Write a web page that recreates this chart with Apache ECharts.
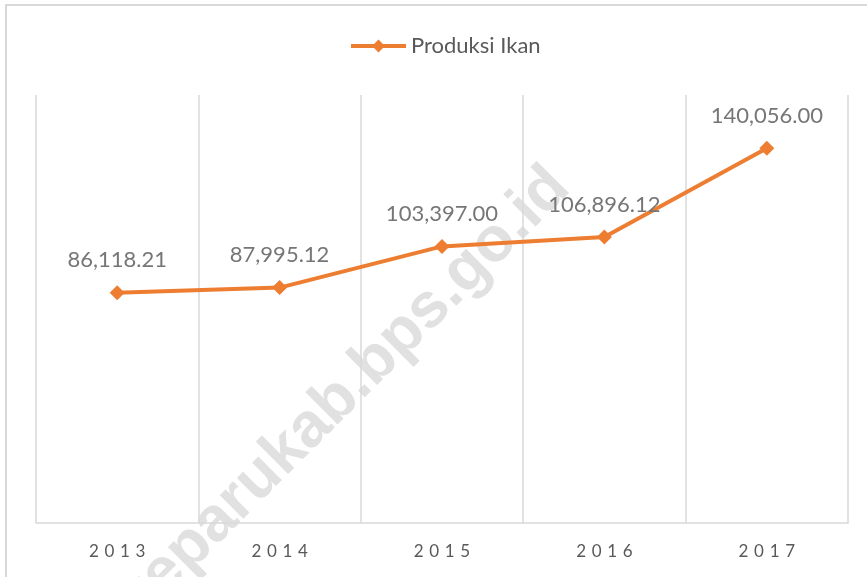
<!DOCTYPE html>
<html>
<head>
<meta charset="utf-8">
<script src="https://cdn.jsdelivr.net/npm/echarts@6/dist/echarts.min.js"></script>
<style>
  html, body { margin: 0; padding: 0; background: #fff; }
  #main { width: 867px; height: 577px; }
</style>
</head>
<body>
<div id="main"></div>
<script>
var years = ['2013', '2014', '2015', '2016', '2017'];
var produksi = [86118.21, 87995.12, 103397.00, 106896.12, 140056.00];
var seriesName = 'Produksi Ikan';

var chart = echarts.init(document.getElementById('main'));

function fmt(v) {
  return v.toLocaleString('en-US', { minimumFractionDigits: 2, maximumFractionDigits: 2 });
}

var option = {
  animation: false,
  textStyle: { fontFamily: 'Lato' },
  graphic: [
    {
      // outer chart frame
      type: 'rect',
      z: -2,
      shape: { x: 6, y: 5, width: 900, height: 700 },
      style: { fill: 'none', stroke: '#d9d9d9', lineWidth: 2 }
    },
    {
      // watermark
      type: 'text',
      z: -1,
      x: 582,
      y: 200,
      rotation: Math.PI / 4,
      style: {
        text: 'keparukab.bps.go.id',
        fill: '#e1e1e1',
        font: 'bold 63px "Liberation Sans"',
        textAlign: 'right',
        textVerticalAlign: 'bottom'
      }
    }
  ],
  legend: {
    top: 30,
    left: 344,
    itemWidth: 55,
    itemHeight: 16,
    itemGap: 4,
    lineStyle: { width: 4 },
    textStyle: { color: '#595959', fontSize: 22 },
    data: [seriesName]
  },
  grid: { left: 36, right: 19, top: 95, bottom: 54 },
  xAxis: {
    type: 'category',
    data: years,
    boundaryGap: true,
    axisLine: { lineStyle: { color: '#d9d9d9', width: 1.5 } },
    axisTick: { show: false },
    axisLabel: {
      color: '#595959',
      fontSize: 17,
      margin: 20,
      formatter: function (v) { return v.split('').join('\u2004'); }
    },
    splitLine: { show: true, lineStyle: { color: '#d9d9d9', width: 1.5 } }
  },
  yAxis: {
    type: 'value',
    min: 0,
    max: 160000,
    show: false
  },
  series: [{
    name: seriesName,
    type: 'line',
    data: produksi,
    z: 5,
    symbol: 'diamond',
    symbolSize: 15,
    lineStyle: { color: '#ED7D31', width: 4 },
    itemStyle: { color: '#ED7D31' },
    label: {
      show: true,
      position: 'top',
      distance: 14,
      color: '#767676',
      fontSize: 22,
      formatter: function (p) { return fmt(p.value); }
    }
  }]
};

chart.setOption(option);
</script>
</body>
</html>
